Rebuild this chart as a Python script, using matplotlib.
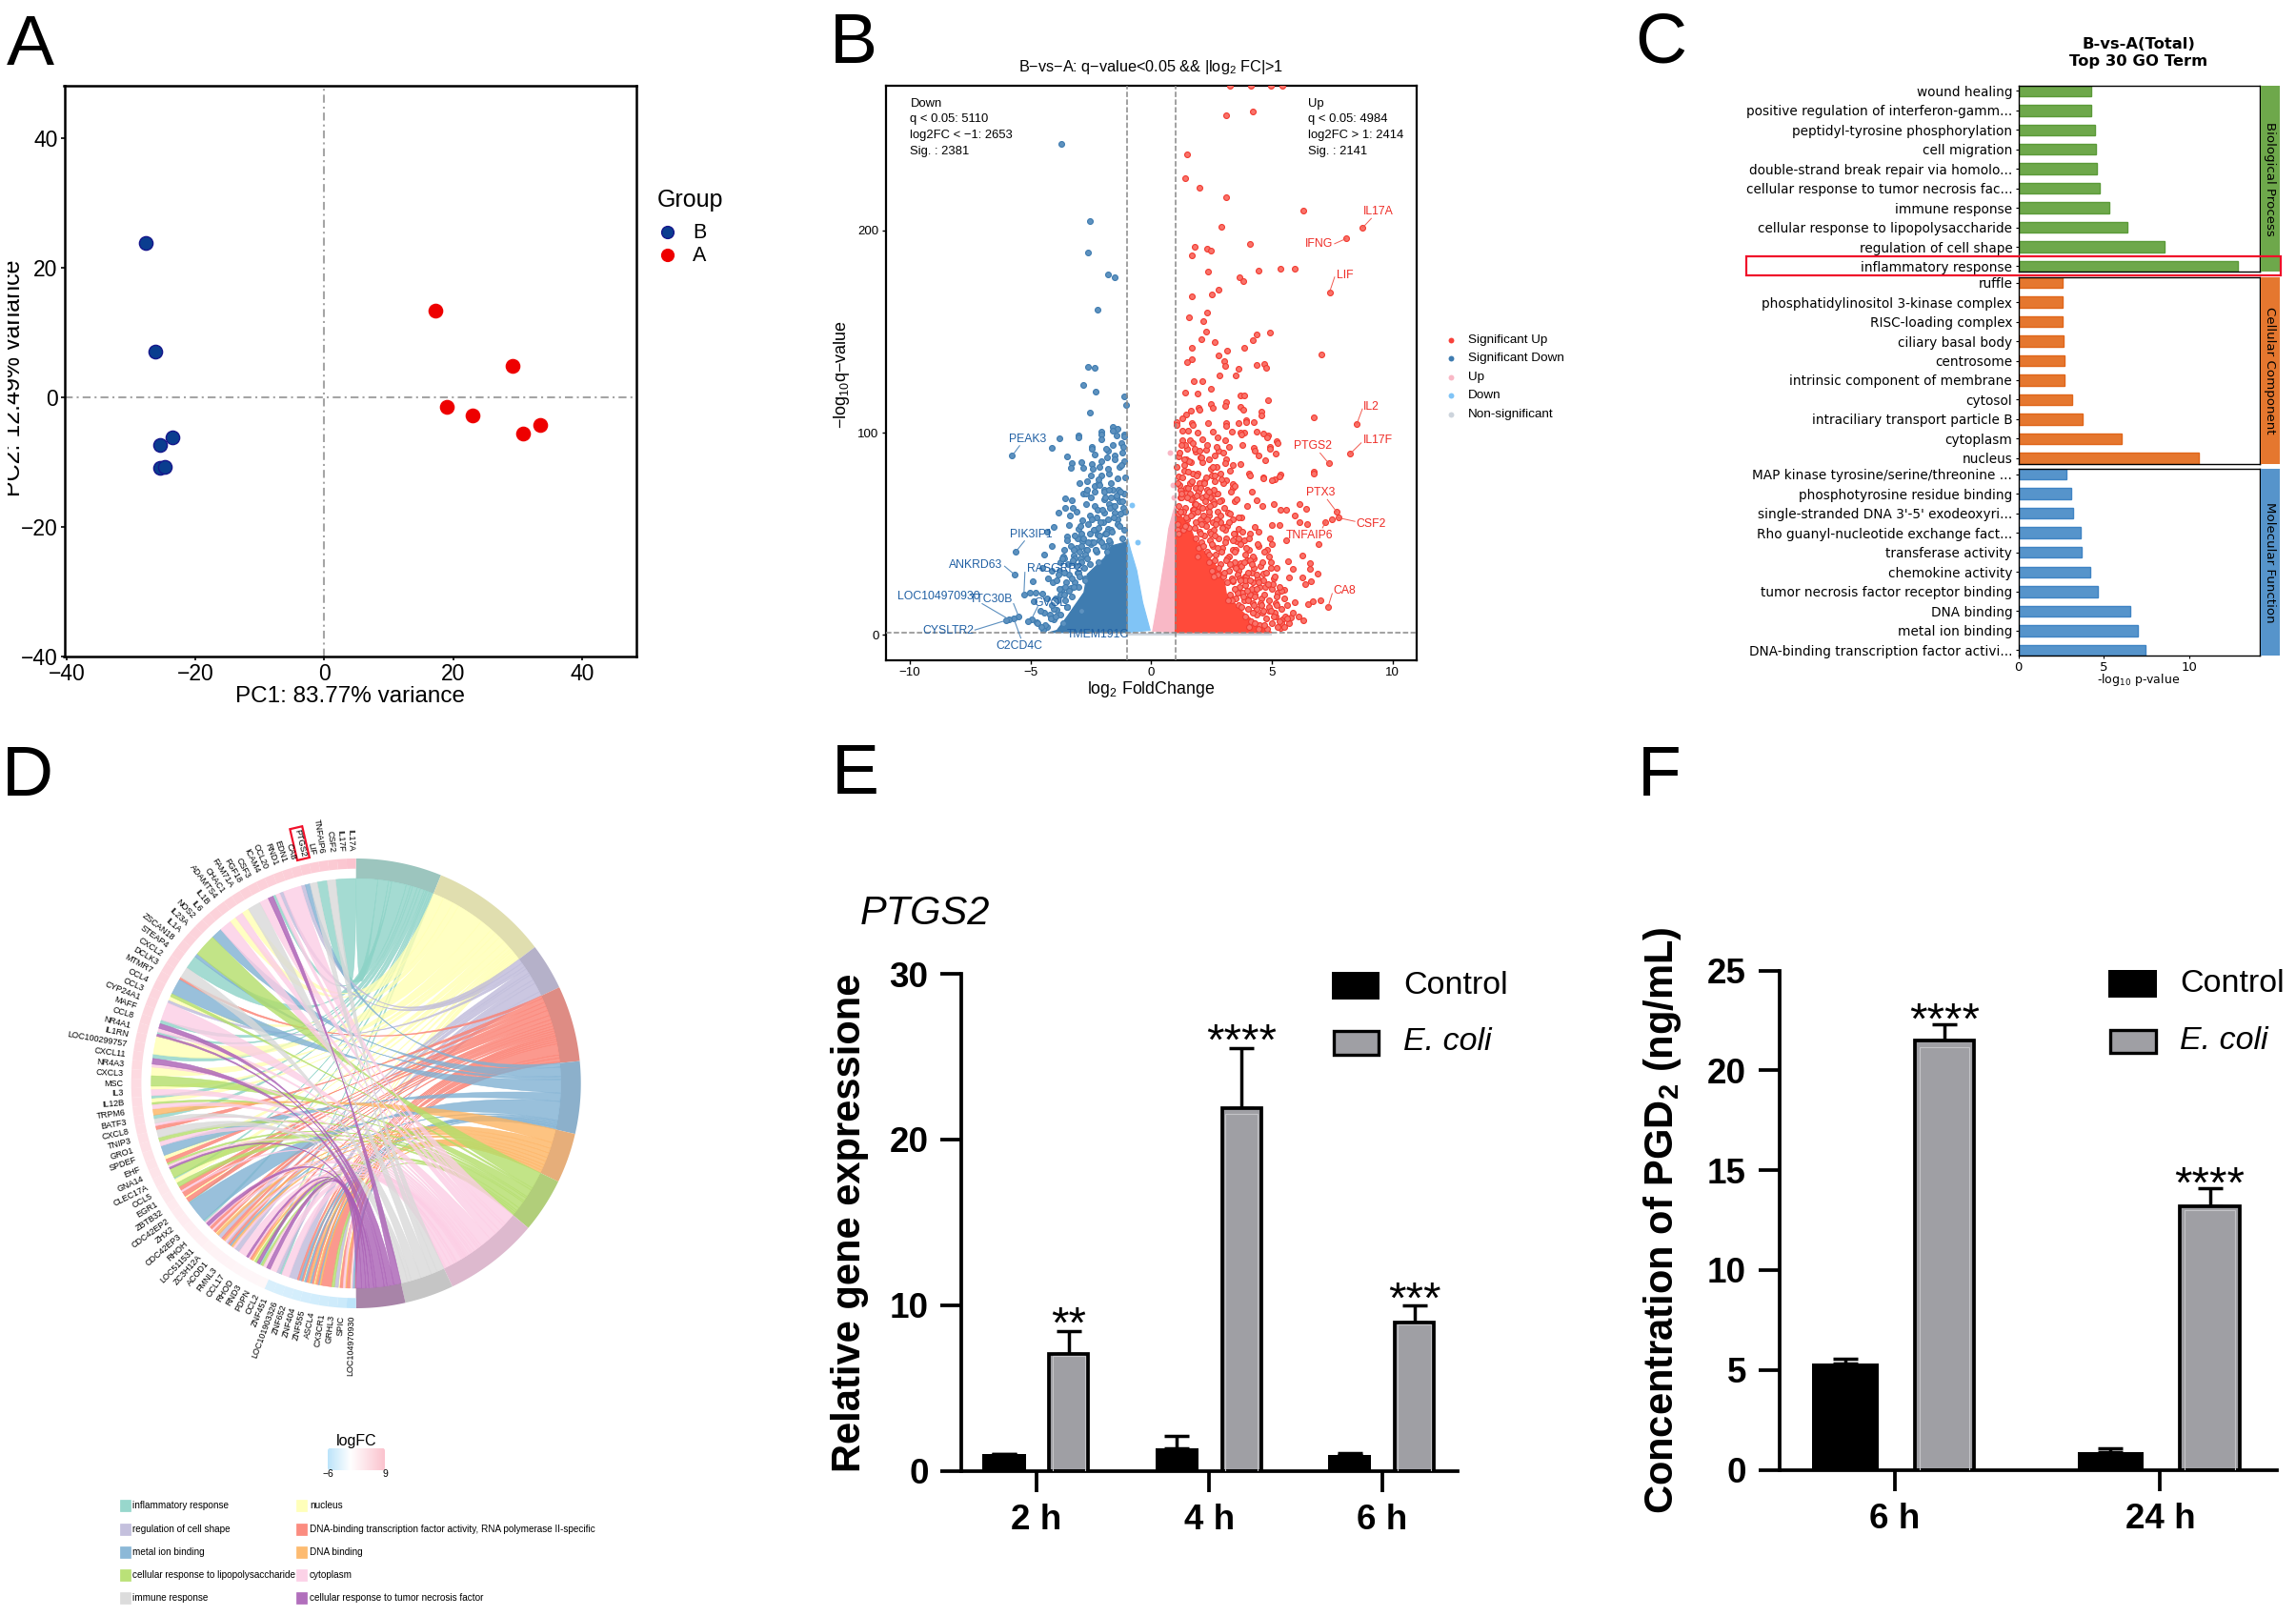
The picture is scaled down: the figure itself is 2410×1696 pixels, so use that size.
import numpy as np
import matplotlib
matplotlib.use("Agg")
import matplotlib.pyplot as plt
from matplotlib.colors import LinearSegmentedColormap, TwoSlopeNorm
from matplotlib.patches import Rectangle, Polygon, PathPatch, FancyBboxPatch
from matplotlib.path import Path

plt.rcParams['font.family'] = ['Liberation Sans', 'DejaVu Sans']
plt.rcParams['mathtext.fontset'] = 'custom'
plt.rcParams['mathtext.rm'] = 'Liberation Sans'
plt.rcParams['mathtext.it'] = 'Liberation Sans:italic'
plt.rcParams['mathtext.bf'] = 'Liberation Sans:bold'

W, H = 2410, 1696

##############PANEL A#################
pca_b_x = [-27.8, -26.3, -23.6, -25.5, -25.5, -24.8]
pca_b_y = [23.8, 7.0, -6.2, -7.3, -10.9, -10.7]
pca_a_x = [17.3, 29.3, 19.0, 23.0, 30.9, 33.5]
pca_a_y = [13.4, 4.8, -1.4, -2.8, -5.6, -4.3]

##############PANEL B#################
up_x = [3.25, 4.15, 4.95, 5.45, 3.1, 4.2, 1.5, 1.4, 2.0, 3.1, 6.3, 2.9, 8.77, 8.07, 4.1, 1.8, 2.3, 2.47, 1.7,
        5.35, 5.93, 4.44, 2.37, 3.64, 3.8, 7.39, 2.78, 2.53, 1.7, 2.33, 1.56, 2.16, 2.26, 4.92, 4.36, 2.08,
        4.2, 2.63, 3.87, 1.67, 3.13, 2.78, 7.06, 1.7, 1.48, 3.02, 4.38, 4.69, 4.77, 3.6, 3.05, 2.84, 3.5,
        1.77, 2.1, 2.49, 1.4, 1.91, 3.7, 3.85, 4.84, 3.09, 2.49, 3.7, 1.98, 1.44, 4.55, 6.75, 3.95, 8.52,
        1.05, 3.09, 1.7, 4.84, 4.63, 3.87, 3.7, 5.18, 8.25, 7.35, 6.73, 5.16, 4.26, 4.94, 5.35, 5.1, 4.63,
        4.07, 3.4,
        5.08, 5.37, 5.58, 5.93, 6.14, 6.42, 6.14, 6.45, 7.68, 7.75, 7.5, 7.23, 6.94, 5.58, 4.99, 5.32, 4.31,
        3.6, 3.4, 3.96, 4.59, 3.47, 4.38, 4.17, 3.4, 4.94, 4.45, 4.1, 4.8, 5.01, 4.87, 6.28, 5.67, 6.56,
        5.86, 6.56, 6.88, 6.28, 6.6, 6.38, 5.72, 5.08, 4.66, 4.52, 3.96, 4.17, 3.89, 4.66, 5.01, 5.22, 5.53,
        5.65, 5.93, 6.49, 6.7, 7.0, 7.33, 6.1, 6.32, 5.44, 5.79, 5.37, 4.94,
        1.29, 1.64, 1.99, 2.56, 3.06, 3.82, 1.04, 1.71, 2.35, 3.12, 3.61, 3.93, 4.27, 4.57, 1.29, 1.51, 1.92,
        2.56, 3.33, 3.75, 4.38, 4.8, 1.29, 1.62, 2.13, 2.77, 3.05, 3.79, 5.22, 4.94, 4.31, 4.45, 4.73, 1.5,
        1.85, 2.28, 2.63, 3.12, 3.68, 1.15, 1.43, 1.64, 2.13, 2.7, 3.26, 4.1, 4.66, 5.32, 5.01, 6.74, 1.36,
        1.71, 2.21, 2.63, 3.12, 1.15, 1.64, 3.47, 2.9, 2.56, 1.78, 1.43, 2.13, 1.22, 1.71, 2.35, 2.77, 3.19,
        2.06, 2.56, 2.98, 2.42, 3.12, 3.54, 3.4, 2.91, 3.68, 3.47, 3.4,
        1.2, 1.35, 1.6, 1.85, 2.05, 2.3, 2.5, 2.65, 1.15, 1.45, 1.8, 2.0, 2.45, 2.75, 3.0, 3.3, 3.55, 3.75,
        1.1, 1.25, 1.5, 1.75, 1.95, 2.2, 2.4, 2.6, 2.85, 3.15, 3.45, 3.85, 4.05, 4.25, 4.45, 4.7, 4.95, 5.2,
        3.6, 3.9, 4.2, 4.5, 4.3, 4.0, 3.7, 3.35, 3.6, 3.85, 4.1, 4.35, 4.6, 4.9, 5.15, 5.4]
up_y = [271.8, 271.8, 271.8, 271.8, 257, 259, 237.6, 226, 221, 216.6, 209.7, 202, 201.5, 196, 193.5, 192, 191, 190,
        187.7, 181, 181, 180, 179.5, 177, 175, 169.5, 170.8, 168.6, 167.4, 159.6, 157, 155, 150, 149.4, 148.8,
        146.4, 145.7, 145, 142, 142, 140.8, 138.4, 138.6, 136.4, 135, 135.4, 133.4, 133.8, 132, 131.7, 133, 128.6,
        128.4, 125.4, 125.4, 122, 120, 119.6, 118.7, 118.7, 116, 115, 114.4, 113, 112.4, 109, 110.3, 107.7, 106,
        104.4, 105.5, 105, 105, 98.8, 99.5, 100, 100, 96, 89.7, 85, 81, 89.7, 92.5, 93, 79.4, 76.8, 77.8, 80, 74.6,
        64.8, 62, 62, 59, 65, 62.5, 56, 55, 61, 58, 57, 56, 45, 47, 54.6, 54.6, 53.5, 52.7, 57, 63.6, 63.6, 66,
        66.7, 71, 73, 48, 51, 50, 42, 45, 38.8, 39.5, 36.4, 35.7, 32.9, 32.6, 30.5, 28.7, 26.7, 25.3, 28.7, 27.9,
        30.2, 34, 37, 31, 24.8, 27, 23, 21, 22.5, 14.7, 16.3, 15.5, 16.7, 17, 14, 9, 7.4, 7.8, 8.5, 3.4, 12.4,
        107, 111, 111.6, 112.4, 113.5, 111.6, 104, 104, 105, 103.6, 104.7, 105.4, 105.4, 108.8, 101, 101, 100,
        100.8, 100.5, 99, 100.5, 97.7, 96.4, 96.4, 97, 97.7, 96.4, 93.8, 94.9, 92, 91, 89, 86.5, 92, 90.7, 91.5,
        89, 87, 84.5, 88.4, 86.8, 85.3, 85.3, 83, 81.4, 79, 77.5, 78.3, 76.7, 80, 81.4, 79.8, 76, 76, 76.7, 78.3,
        75, 73.6, 66.7, 66.7, 68, 70.5, 68, 68, 62, 62.8, 61, 60.5, 57.4, 55.8, 53.5, 51, 48, 46.5, 42, 42, 35.7,
        34, 26.4,
        72, 84, 70, 73, 88, 72, 79, 70, 60, 73, 65, 75, 68, 70, 75, 71, 67, 58, 52, 68, 57, 62, 64, 55, 59, 65, 56,
        54, 50, 47, 42, 38, 44, 41, 36, 33, 32, 29, 26, 24, 20, 18, 21, 18, 15, 17, 20, 13, 11, 12, 9, 6]
up_more_x = [1.12, 1.27, 1.41, 1.53, 1.66, 1.83, 1.97, 2.12, 2.28, 2.44, 2.61, 2.83, 3.02, 1.19, 1.34, 1.48, 1.61, 1.76,
             1.9, 2.05, 2.22, 2.39,
             1.08, 1.21, 1.33, 1.46, 1.58, 1.72, 1.86, 1.99, 2.14, 2.27, 2.41, 2.58, 2.72, 2.88, 3.05, 3.22, 3.41, 3.63,
             1.15, 1.39, 1.64, 1.79, 1.93, 2.09, 2.33, 2.49, 2.66, 2.93, 3.28, 3.76,
             1.85, 1.97, 2.08, 2.2, 2.31, 2.43, 2.55, 2.68, 2.81, 2.95, 3.08, 3.23, 3.37, 3.52, 3.71, 3.88, 4.06, 1.92,
             2.03, 2.15, 2.38, 2.5, 2.62, 2.76, 2.9, 3.15, 3.45, 3.63, 3.95, 4.2, 4.42,
             2.4, 2.52, 2.63, 2.74, 2.86, 2.99, 3.1, 3.22, 3.33, 3.46, 3.59, 3.74, 3.92, 4.08, 4.27, 4.41, 4.6, 4.78,
             2.58, 2.8, 3.04, 3.27, 3.5, 3.66, 3.84, 4.0, 4.18, 4.36, 4.95, 5.12,
             3.15, 3.27, 3.39, 3.52, 3.64, 3.77, 3.9, 4.03, 4.16, 4.29, 4.43, 4.58, 4.74, 4.9, 5.05, 5.2, 5.38, 3.33,
             3.58, 3.83, 4.09, 4.35, 4.52, 4.68, 4.85, 5.15, 5.3, 5.5, 3.2, 3.46, 3.7, 3.96, 4.22,
             3.75, 3.88, 4.0, 4.13, 4.25, 4.38, 4.5, 4.63, 4.76, 4.88, 5.0, 5.12, 5.25, 5.4, 5.55, 5.7, 5.85, 4.06, 4.31,
             4.56, 4.82, 5.06, 5.32, 5.5, 4.2, 4.44, 4.7, 4.95, 5.18, 5.62,
             1.07, 1.17, 1.31, 1.42, 1.55, 1.68, 1.81, 1.94, 2.08, 2.18, 2.33, 2.47, 2.62, 2.78, 2.92, 3.07, 3.24, 1.11,
             1.24, 1.37, 1.52, 1.72, 1.88, 2.02, 2.26, 2.41, 2.56, 2.72, 2.86, 3.0, 3.38]
up_more_y = [64, 70, 63, 73, 67, 65, 71, 63, 69, 64, 72, 66, 63, 74, 61, 68, 75, 62, 69, 73, 66, 71,
             55, 61, 52, 58, 53, 60, 56, 51, 59, 54, 61, 52, 57, 59, 52, 56, 50, 58, 50, 54, 59, 53, 61, 55, 57, 50, 55,
             53, 60, 51,
             48, 43, 46, 49, 41, 47, 44, 40, 48, 43, 46, 39, 47, 42, 45, 40, 48, 39, 50, 44, 40, 45, 49, 43, 41, 38, 41,
             48, 43, 39, 45,
             36, 32, 37, 30, 35, 29, 37, 32, 28, 36, 30, 34, 29, 37, 33, 28, 36, 31, 29, 33, 31, 35, 33, 28, 36, 31, 35,
             30, 33, 29,
             26, 20, 27, 18, 24, 21, 27, 17, 23, 19, 26, 18, 24, 17, 25, 19, 22, 17, 21, 19, 27, 23, 16, 20, 25, 16, 24,
             18, 17, 23, 27, 22, 16,
             14, 9, 13, 7, 15, 10, 5, 12, 8, 14, 6, 11, 4, 13, 9, 6, 11, 4, 6, 15, 3, 9, 7, 4, 11, 3, 5, 12, 15, 8,
             83, 90, 78, 94, 86, 76, 92, 80, 88, 75, 94, 82, 79, 91, 77, 85, 93, 75, 94, 87, 81, 95, 79, 91, 78, 87, 83,
             93, 80, 90, 84]
down_x = [-3.74, -2.55, -2.63, -1.79, -1.52, -2.24, -2.63, -2.35, -2.82, -2.3, -1.11, -1.05, -2.53, -1.58, -2.06,
          -3.02, -3.8, -5.76, -4.12, -1.11, -1.4, -1.25, -2.45, -1.2, -1.8,
          -3.02, -2.08, -2.05, -1.59, -1.45, -1.1, -2.46, -2.36, -3.48, -3.27, -2.89, -2.81, -3.31, -2.46,
          -2.15, -1.82, -1.52, -1.1, -1.31, -1.73, -2.05, -2.36, -2.64, -1.38, -1.1, -1.66, -2.5, -2.8, -3.55,
          -3.27, -3.55, -3.24, -3.83, -3.37, -2.85, -2.36, -1.94, -1.52, -4.04, -3.41, -4.33, -3, -3.48, -3.06,
          -2.85, -4.11, -5.62, -4.44, -3.65, -3.2, -2.5, -2.22, -1.8, -1.38, -5.65, -4.92, -4.09, -5.27, -5.03,
          -4.79, -4.52, -5.48, -5.7, -5.9, -6, -4.96, -4.75, -5.1, -4.85, -3.76, -3.34, -4.33, -4.47, -3.9, -4.04,
          -3.55, -3.06,
          -1.95, -2.2, -2.7, -1.6, -1.3, -1.15, -2.9, -2.6, -2.25, -1.75, -1.45, -2.0, -2.35, -3.1, -3.6, -3.8,
          -2.15, -1.9, -1.65, -1.4, -1.2, -2.7, -2.45, -3.25, -2.95, -3.4, -2.3, -1.7, -3.7, -3.95, -4.2, -3.15,
          -2.55, -3.0, -2.75, -3.5, -2.9, -2.2, -1.85, -1.55]
down_y = [243, 204.8, 189, 178.4, 176.9, 161, 132.5, 132.3, 123.7, 120.4, 118, 114, 109.8, 103, 100.5, 98.8, 97.5,
          88.6, 92.8, 99, 102, 95, 93, 90, 91,
          97.7, 99, 97, 101, 98.5, 98, 92, 89.4, 88.4, 85, 85.6, 82.5, 82.5, 84.5, 83, 88, 89, 86, 83, 80, 78.8,
          73.6, 76, 77.5, 69.8, 68, 68, 69.8, 67.4, 66.7, 62.8, 62.8, 60.5, 59, 56.6, 63.6, 60.5, 60.5, 53.5, 54.3,
          51, 52.7, 48.8, 48, 46.5, 44, 41, 40, 38.8, 39.5, 45, 49.6, 52.7, 57.4, 29.8, 26.7, 26, 20.2, 21, 21,
          20.6, 9, 8.4, 7.8, 7.3, 7.8, 6.2, 7, 16.7, 20, 23.3, 3.9, 2.8, 12.4, 7.8, 17, 31,
          72, 75, 70, 72, 66, 63, 50, 55, 58, 65, 68, 56, 52, 43, 38, 32, 47, 50, 52, 55, 48, 42, 46, 36, 38, 30, 42,
          46, 23, 18, 10, 26, 35, 24, 28, 14, 12, 36, 44, 64]
down_more_x = [-1.07, -1.19, -1.31, -1.44, -1.57, -1.69, -1.83, -1.96, -2.1, -2.24, -2.38, -2.54, -2.71, -2.92, -1.13,
               -1.26, -1.5, -1.62, -1.77, -1.89, -2.03, -2.18, -2.47, -3.1,
               -1.75, -1.88, -2.0, -2.13, -2.26, -2.39, -2.52, -2.67, -2.82, -2.98, -3.15, -3.32, -3.5, -1.82, -2.06,
               -2.32, -2.6, -2.75, -2.9, -3.22, -3.62,
               -2.66, -2.78, -2.9, -3.03, -3.17, -3.3, -3.44, -3.6, -3.76, -3.92, -4.1, -2.72, -2.96, -3.1, -3.24, -3.52,
               -3.68, -3.85, -4.28, -4.5,
               -3.5, -3.62, -3.75, -3.88, -4.02, -4.15, -4.3, -4.45, -3.58, -3.8, -3.95, -4.1, -4.38, -4.6, -4.72, -4.55,
               -3.66, -3.2, -3.3, -3.42,
               -1.08, -1.22, -1.37, -1.52, -1.66, -1.8, -1.93, -2.07, -2.2, -2.34, -2.5, -1.14, -1.29, -1.6, -1.74, -1.87,
               -2.13, -2.42, -2.66, -2.98]
down_more_y = [61, 66, 54, 69, 58, 63, 51, 67, 56, 62, 52, 59, 65, 54, 52, 60, 64, 51, 57, 68, 62, 53, 57, 61,
               47, 50, 44, 49, 41, 46, 50, 42, 48, 41, 49, 44, 47, 41, 46, 42, 46, 40, 44, 42, 42,
               38, 33, 36, 31, 38, 28, 35, 31, 36, 27, 32, 27, 29, 34, 37, 26, 38, 30, 28, 33,
               14, 20, 10, 17, 13, 8, 18, 11, 24, 23, 9, 15, 5, 12, 6, 4, 6, 24, 19, 22,
               78, 84, 72, 87, 75, 82, 71, 86, 77, 71, 79, 93, 71, 94, 72, 92, 74, 82, 72, 75]
up_pt_x = [0.79, 0.91, 0.94]
up_pt_y = [90, 74, 68]
dn_pt_x = [-0.81, -0.58]
dn_pt_y = [64.3, 45.7]
red_cloud_x = [1.0, 1.02, 1.3, 1.57, 1.78, 2.28, 2.98, 3.12, 3.82, 4.66, 5.0, 1.0]
red_cloud_y = [1.3, 62, 58, 55, 48, 40, 30, 20, 11, 3, 1.3, 1.3]
blue_cloud_x = [-1.0, -1.02, -1.66, -1.94, -2.64, -2.78, -3.48, -3.9, -4.2, -1.0]
blue_cloud_y = [1.3, 46, 44, 38, 30, 21, 9, 2.3, 1.3, 1.3]
lblue_cloud_x = [-1.0, -0.98, -0.85, -0.6, -0.35, -0.04, -1.0]
lblue_cloud_y = [1.3, 48, 42, 32, 16, 2.3, 1.3]
pink_cloud_x = [0.06, 0.3, 0.59, 0.73, 0.94, 1.0, 1.0, 0.06]
pink_cloud_y = [1.9, 18, 40, 52.7, 62, 65, 1.3, 1.9]
ns_x = [-1.0, -1.0, 5.0, 5.0, -1.0]
ns_y = [1.3, -0.3, -0.3, 1.3, 1.3]

volcano_labels = ["IL17A", "IFNG", "LIF", "IL2", "IL17F", "PTGS2", "PTX3", "CSF2", "TNFAIP6", "CA8"]
label_x = [9.4, 6.95, 8.02, 9.13, 9.38, 6.69, 7.04, 9.11, 6.58, 8.0]
label_y = [209.5, 193.3, 178, 112.9, 96.2, 93.4, 70.3, 54.7, 49.3, 22]
leader_x0 = [8.77, 8.07, 7.39, 8.52, 8.25, 7.35, 7.68, 7.75, 7.23, 7.33]
leader_y0 = [201.5, 196, 169.5, 104.4, 89.7, 85, 61, 58, 56, 14]
leader_x1 = [9.12, 7.6, 7.6, 8.75, 8.7, 7.0, 7.3, 8.44, 7.1, 7.5]
leader_y1 = [206, 193.5, 177, 111.8, 95, 90, 67, 56.2, 53, 20.5]
volcano_labels_dn = ["PEAK3", "PIK3IP1", "ANKRD63", "RASGRP3", "LOC104970930", "TTC30B", "GVOL", "CYSLTR2",
                     "C2CD4C", "TMEM191C"]
label_dn_x = [-5.12, -4.98, -7.28, -4.0, -8.8, -6.64, -4.2, -8.4, -5.45, -2.2]
label_dn_y = [97, 49.7, 34.6, 32.9, 19, 17.7, 15.8, 2, -5.4, 0]
leader_dn_x0 = [-5.76, -5.62, -5.65, -5.27, -5.9, -5.48, -4.96, -6.0, -5.7]
leader_dn_y0 = [88.6, 41, 29.8, 20.2, 7.8, 9, 7.8, 7.3, 8.4]
leader_dn_x1 = [-5.45, -5.25, -6.07, -5.23, -7.0, -5.7, -4.7, -7.3, -5.4]
leader_dn_y1 = [93.6, 46.5, 34, 31, 15.5, 15.5, 14, 2.5, -1.5]

##############PANEL C#################
bp_terms = ["wound healing", "positive regulation of interferon-gamm...", "peptidyl-tyrosine phosphorylation",
            "cell migration", "double-strand break repair via homolo...", "cellular response to tumor necrosis fac...",
            "immune response", "cellular response to lipopolysaccharide", "regulation of cell shape",
            "inflammatory response"]
bp_vals = [4.24, 4.29, 4.47, 4.55, 4.62, 4.75, 5.33, 6.36, 8.56, 12.85]
cc_terms = ["ruffle", "phosphatidylinositol 3-kinase complex", "RISC-loading complex", "ciliary basal body",
            "centrosome", "intrinsic component of membrane", "cytosol", "intraciliary transport particle B",
            "cytoplasm", "nucleus"]
cc_vals = [2.58, 2.58, 2.6, 2.63, 2.68, 2.7, 3.13, 3.74, 6.06, 10.56]
mf_terms = ["MAP kinase tyrosine/serine/threonine ...", "phosphotyrosine residue binding",
            "single-stranded DNA 3'-5' exodeoxyri...", "Rho guanyl-nucleotide exchange fact...", "transferase activity",
            "chemokine activity", "tumor necrosis factor receptor binding", "DNA binding", "metal ion binding",
            "DNA-binding transcription factor activi..."]
mf_vals = [2.83, 3.08, 3.18, 3.66, 3.69, 4.22, 4.67, 6.57, 7.02, 7.47]

##############PANEL D#################
genes = ["IL17A", "IL17F", "CSF2", "TNFAIP6", "LIF", "PTGS2", "CA8", "EDN1", "RND1", "CCL20", "ICAM4", "CSF3", "FGF18",
         "FAM71A", "CHAC1", "ADAMTS4", "IL1B", "IL6", "NOS2", "IL23A", "IL1A", "ZSCAN18", "STEAP4", "CXCL2", "DCLK3",
         "MTMR7", "CCL4", "CCL3", "CYP24A1", "MAFF", "CCL8", "NR4A1", "IL1RN", "LOC100299757", "CXCL11", "NR4A3",
         "CXCL3", "MSC", "IL3", "IL12B", "TRPM6", "BATF3", "CXCL8", "TNIP3", "GRO1", "SPDEF", "EHF", "GNA14", "CLEC17A",
         "CCL5", "EGR1", "ZBTB32", "CDC42EP2", "ZHX2", "CDC42EP3", "RHOH", "LOC511531", "ZC3H12A", "ACOD1", "FMNL3",
         "CCL17", "RHOD", "RND3", "PDPN", "CCL2", "ZNF451", "LOC101903326", "ZNF652", "ZNF404", "ZNF555", "ASCL4",
         "CX3CR1", "GRHL3", "SPIC", "LOC104970930"]
gene_logfc = [8.8, 8.3, 8.0, 7.7, 7.5, 7.4, 7.3, 7.2, 7.1, 7.0, 7.0, 6.9, 6.9, 6.8, 6.8, 6.7, 6.7, 6.6, 6.6, 6.5,
              6.5, 6.4, 6.4, 6.3, 6.3, 6.2, 6.2, 6.1, 6.1, 6.0, 6.0, 5.9, 5.9, 5.8, 5.7, 5.6, 5.5, 5.4, 5.3, 5.2,
              5.1, 5.0, 4.9, 4.8, 4.6, 4.4, 4.2, 4.0, 3.8, 3.6, 3.4, 3.2, 3.0, 2.8, 2.6, 2.4, 2.2, 2.0, 1.8, 1.7,
              1.6, 1.5, 1.4, 1.3, 1.2, -3.5, -3.6, -3.7, -3.8, -3.9, -4.0, -4.2, -4.4, -4.6, -5.9]
term_names = ["inflammatory response", "nucleus", "regulation of cell shape",
              "DNA-binding transcription factor activity, RNA polymerase II-specific", "metal ion binding",
              "DNA binding", "cellular response to lipopolysaccharide", "cytoplasm", "immune response",
              "cellular response to tumor necrosis factor"]
term_span = [22.2, 30.5, 12.0, 19.6, 18.7, 12.9, 14.1, 24.6, 12.7, 12.7]
term_fill = ["#8DD3C7", "#FFFFB3", "#BEBADA", "#FB8072", "#80B1D3", "#FDB462", "#B3DE69", "#FCCDE5", "#D9D9D9", "#A95FB5"]
term_rim = ["#9CC5BE", "#E0DEAF", "#B5B1C9", "#DE8C84", "#8CB0CB", "#E6AE7A", "#B1CE7A", "#DDB9CE", "#C5C5C5", "#A884A8"]
link_term = [0, 8, 0, 8, 4, 2, 7, 2, 7, 0, 9, 7, 8, 1, 7, 1, 7, 4, 6, 4, 0, 8, 3, 4, 6, 1, 2, 7,
             0, 9, 7, 0, 9, 1, 0, 9, 7, 1, 6, 1, 7, 0, 1, 6, 7, 5, 0, 8, 7, 3, 8, 6,
             7, 4, 1, 3, 6, 7, 9, 6, 0, 1, 6, 3, 7, 3, 1, 3, 0, 4, 0, 7, 9, 7, 3, 7, 3, 1, 5, 2, 3, 5, 7,
             2, 3, 4, 5, 7, 2, 7,
             9, 7, 3, 5, 1, 6, 9, 0, 6, 7, 9, 7, 2, 0, 7, 2,
             3, 4, 3, 1, 4, 3, 5, 4, 3, 1, 5, 3, 4, 5, 3, 6, 2, 1, 3, 7, 5, 3, 1, 7, 4, 3]
link_width = [4.7, 2.0, 2.3, 1.7, 1.1, 1.0, 4.3, 0.9, 1.0, 0.7, 1.2, 2.2, 3.0, 1.7, 1.8, 1.6, 2.8, 2.6, 5.2, 0.8,
              3.2, 2.6, 0.6, 3.7, 0.7, 1.0, 0.6, 4.2,
              0.9, 1.1, 0.9, 0.5, 0.5, 4.2, 1.0, 1.3, 0.7, 2.0, 2.4, 0.8, 1.4, 0.7, 0.9, 0.5, 1.0, 1.4, 0.9, 1.0, 0.6,
              1.0, 1.8, 1.0,
              1.0, 2.3, 1.0, 0.9, 0.5, 0.6, 0.4, 2.2, 0.4, 1.0, 1.0, 1.0, 0.4, 1.2, 0.5, 1.0, 0.3, 5.2, 0.5, 0.4, 0.8,
              0.3, 0.8, 0.4, 0.7, 0.3, 0.6, 1.0, 0.6, 0.5, 0.4, 0.5, 0.5, 0.4, 0.5, 0.5, 1.2, 2.0,
              0.5, 0.4, 0.5, 0.4, 0.4, 0.6, 0.7, 0.4, 0.6, 0.8, 0.9, 1.6, 0.8, 0.5, 1.8, 2.0,
              0.5, 0.5, 0.4, 0.3, 0.4, 0.5, 0.4, 0.4, 0.5, 0.3, 0.3, 0.5, 0.3, 0.3, 2.5, 0.6, 0.9, 0.4, 0.7, 0.5, 0.3,
              0.8, 0.3, 0.3, 0.5, 0.3]

##############PANELS E F#################
ptgs_groups = ["2 h", "4 h", "6 h"]
ptgs_ctrl = [1.0, 1.35, 0.95]
ptgs_ctrl_top = [1.0, 2.1, 1.05]
ptgs_ecoli = [7.07, 21.9, 8.96]
ptgs_ecoli_top = [8.42, 25.5, 9.97]
ptgs_stars = ["**", "****", "***"]
pgd_groups = ["6 h", "24 h"]
pgd_ctrl = [5.31, 0.9]
pgd_ctrl_top = [5.58, 1.05]
pgd_ecoli = [21.5, 13.2]
pgd_ecoli_top = [22.3, 14.1]
pgd_stars = ["****", "****"]


def px_axes(l, t, r, b):
    return fig.add_axes([l / W, 1 - b / H, (r - l) / W, (b - t) / H])


fig = plt.figure(figsize=(W / 100, H / 100), dpi=100, facecolor="white")
ov = fig.add_axes([0, 0, 1, 1], zorder=10)
ov.set_xlim(0, W)
ov.set_ylim(H, 0)
ov.axis("off")

# panel letters
for letter, lx, ly in [("A", 7, 68), ("B", 871, 66), ("C", 1716, 66), ("D", 2, 835), ("E", 873, 833), ("F", 1719, 835)]:
    ov.text(lx, ly, letter, fontsize=54, va="baseline", ha="left", color="black")

##############A#################
ax = px_axes(67.5, 90, 667.5, 689)
ax.scatter(pca_b_x, pca_b_y, s=105, c="#0A3D8F", edgecolors="#16168C", linewidths=1.0, zorder=3)
ax.scatter(pca_a_x, pca_a_y, s=105, c="#EE0000", edgecolors="#EE0000", linewidths=1.0, zorder=3)
ax.axhline(0, color="#A5A5A5", ls=(0, (4, 2, 1, 2)), lw=1.5)
ax.axvline(0, color="#A5A5A5", ls=(0, (4, 2, 1, 2)), lw=1.5)
ax.set_xlim(-40.4, 48.4)
ax.set_ylim(-39.8, 48.1)
ax.set_xticks([-40, -20, 0, 20, 40])
ax.set_yticks([-40, -20, 0, 20, 40])
ax.tick_params(labelsize=16.5, length=3, width=1.2, pad=2)
for s in ax.spines.values():
    s.set_linewidth(1.8)
ov.text(367.5, 737, "PC1: 83.77% variance", fontsize=17.5, ha="center", va="baseline")
ov.text(21, 397, "PC2: 12.49% variance", fontsize=18, rotation=90, ha="center", va="baseline", rotation_mode="anchor")
ov.add_patch(Rectangle((0, 250), 8, 300, fc="white", ec="none", zorder=5))
ov.text(690, 210, "Group", fontsize=18, va="center")
ov.scatter([701, 701], [244, 268], s=85, c=["#0A3D8F", "#EE0000"], edgecolors=["#16168C", "#EE0000"])
ov.text(727, 244, "B", fontsize=15.5, va="center")
ov.text(727, 268, "A", fontsize=15.5, va="center")

##############B#################
ax = px_axes(929.6, 89.6, 1487, 693)
ax.fill(ns_x, ns_y, color="#CDD4DC", lw=0, zorder=1)
ax.fill(lblue_cloud_x, lblue_cloud_y, color="#80C4F6", lw=0.8, zorder=2)
ax.fill(pink_cloud_x, pink_cloud_y, color="#F9B8C6", lw=0.8, zorder=2)
ax.fill(blue_cloud_x, blue_cloud_y, color="#3F7CB0", lw=1, zorder=2)
ax.fill(red_cloud_x, red_cloud_y, color="#FF4A3A", lw=1, zorder=2)
ax.scatter(up_pt_x, up_pt_y, s=18, c="#F9B8C6", lw=0, zorder=2)
ax.scatter(dn_pt_x, dn_pt_y, s=18, c="#80C4F6", lw=0, zorder=2)
ax.scatter(up_x + up_more_x, up_y + up_more_y, s=18, facecolors="#F9736A", edgecolors="#F23A30", lw=0.8, zorder=3)
ax.scatter(down_x + down_more_x, down_y + down_more_y, s=18, facecolors="#5E92BF", edgecolors="#3F7CB0", lw=0.8, zorder=3)
ax.axhline(1.3, color="#888888", ls="--", lw=1.1, zorder=4)
ax.axvline(-1, color="#888888", ls="--", lw=1.1, zorder=4)
ax.axvline(1, color="#888888", ls="--", lw=1.1, zorder=4)
ax.set_xlim(-11, 11)
ax.set_ylim(-12.5, 271.8)
ax.set_xticks([-10, -5, 0, 5, 10])
ax.set_xticklabels(["−10", "−5", "0", "5", "10"])
ax.set_yticks([0, 100, 200])
ax.tick_params(labelsize=9.5, length=3, width=1.0, pad=2)
for s in ax.spines.values():
    s.set_linewidth(1.6)
for x0, y0, x1, y1 in zip(leader_x0, leader_y0, leader_x1, leader_y1):
    ax.plot([x0, x1], [y0, y1], color="#F25A50", lw=0.7, zorder=5)
for x0, y0, x1, y1 in zip(leader_dn_x0, leader_dn_y0, leader_dn_x1, leader_dn_y1):
    ax.plot([x0, x1], [y0, y1], color="#5C8FBF", lw=0.8, zorder=5)
for t, x, y in zip(volcano_labels, label_x, label_y):
    ax.text(x, y, t, color="#EE2A24", fontsize=8.8, ha="center", va="center", zorder=6)
for t, x, y in zip(volcano_labels_dn, label_dn_x, label_dn_y):
    ax.text(x, y, t, color="#1F5FA3", fontsize=8.8, ha="center", va="center", zorder=6)
for i, t in enumerate(["Down", "q < 0.05: 5110", "log2FC < −1: 2653", "Sig. : 2381"]):
    ax.text(-9.98, [262.7, 255, 247, 239][i], t, fontsize=9.4, va="center")
for i, t in enumerate(["Up", "q < 0.05: 4984", "log2FC > 1: 2414", "Sig. : 2141"]):
    ax.text(6.52, [262.7, 255, 247, 239][i], t, fontsize=9.4, va="center")
ov.text(1208, 70, r"B−vs−A: q−value<0.05 && |log$_2$ FC|>1", fontsize=11.7, ha="center", va="center")
ov.text(1208, 724, r"log$_2$ FoldChange", fontsize=12.8, ha="center", va="center")
ov.text(883.5, 392.6, r"−log$_{10}$q−value", fontsize=13, ha="center", va="center", rotation=90)
for i, (t, c) in enumerate(zip(["Significant Up", "Significant Down", "Up", "Down", "Non-significant"],
                               ["#F8413A", "#3F7CB0", "#F9B8C6", "#80C4F6", "#CDD4DC"])):
    ov.scatter([1522.7], [356.8 + i * 19.5], s=18, c=c, lw=0)
    ov.text(1541, 356.8 + i * 19.5, t, fontsize=9.7, va="center")

##############C#################
c_sets = [(bp_terms, bp_vals, "#6EA84B", "#5B9A38", 89.8, 285, "Biological Process"),
          (cc_terms, cc_vals, "#E5772F", "#E0661A", 291, 486.5, "Cellular Component"),
          (mf_terms, mf_vals, "#5694CB", "#3F84C4", 492, 688, "Molecular Function")]
for k, (names, vals, col, edge, top, bot, side) in enumerate(c_sets):
    ax = px_axes(2118.5, top, 2372, bot)
    ax.barh(range(10), vals, height=0.56, color=col, edgecolor=edge, lw=1)
    ax.set_ylim(9.27, -0.27)
    ax.set_xlim(0, 14.14)
    ax.set_yticks(range(10))
    ax.set_yticklabels(names, family="DejaVu Sans", fontsize=9.85)
    ax.tick_params(axis="y", length=2.5, width=0.8, pad=2)
    for s in ax.spines.values():
        s.set_linewidth(1.0)
    if k == 2:
        ax.set_xticks([0, 5, 10])
        ax.set_xticklabels(["0", "5", "10"], family="DejaVu Sans", fontsize=9.5)
        ax.tick_params(axis="x", length=2.5, width=0.8, pad=1.5)
    else:
        ax.set_xticks([])
    ov.add_patch(Rectangle((2373, top), 19.5, bot - top, fc=col, ec="none"))
    ov.text(2382.5, (top + bot) / 2, side, family="DejaVu Sans", fontsize=9.6, rotation=-90, ha="center", va="center")
ov.text(2245, 46.6, "B-vs-A(Total)", family="DejaVu Sans", weight="bold", fontsize=11.8, ha="center", va="center")
ov.text(2245, 64.5, "Top 30 GO Term", family="DejaVu Sans", weight="bold", fontsize=11.8, ha="center", va="center")
ov.text(2245, 714, r"-log$_{10}$ p-value", family="DejaVu Sans", fontsize=9, ha="center", va="center",
        math_fontfamily="dejavusans")
ov.add_patch(Rectangle((1832.7, 269.3), 561.3, 20.2, fc="none", ec="#F0102A", lw=1.6, zorder=6))

##############D#################
cx, cy = 373.7, 1137.0
r_out, r_ring, r_link = 236.0, 225.3, 215.0
fc_cmap = LinearSegmentedColormap.from_list("fc", ["#BCE4FA", "#FFFFFF", "#FBC3CE"])
fc_norm = TwoSlopeNorm(vmin=-6, vcenter=0, vmax=9)


def pol(phi, r):
    a = np.radians(phi)
    return cx + r * np.sin(a), cy - r * np.cos(a)


def arc(p0, p1, r):
    n = max(int(abs(p1 - p0) * 2) + 2, 3)
    return [pol(p, r) for p in np.linspace(p0, p1, n)]


def band(p0, p1, r0, r1, **kw):
    ov.add_patch(Polygon(arc(p0, p1, r1) + arc(p1, p0, r0), closed=True, **kw))


# right side sectors
term_start = np.concatenate([[0], np.cumsum(term_span)[:-1]])
for s, w, col in zip(term_start, term_span, term_rim):
    band(s, s + w, r_link, r_out, fc=col, ec="none", zorder=2)

# left side ring and labels
step = 180.0 / len(genes)
for i, (g, fc) in enumerate(zip(genes, gene_logfc)):
    p0 = 360 - i * step
    band(p0 - step - 0.02, p0, r_ring, r_out, fc=fc_cmap(fc_norm(fc)), ec="none", zorder=2)
    phi = p0 - step / 2
    x, y = pol(phi, r_out + 8)
    kw = {}
    if g == "PTGS2":
        kw["bbox"] = dict(fc="none", ec="#F0102A", lw=1.6, pad=1.5)
    ov.text(x, y, g, fontsize=6.5, rotation=270 - phi, rotation_mode="anchor", ha="right", va="center", **kw)

# ribbons
scale = 180.0 / sum(link_width)
link_term_arr = np.array(link_term)
link_width_arr = np.array(link_width) * scale
left_edges = 360 - np.concatenate([[0], np.cumsum(link_width_arr)])
for t in range(10):
    idx = np.where(link_term_arr == t)[0]
    k = term_span[t] / link_width_arr[idx].sum()
    pos = term_start[t]
    for j in idx:
        a0, a1 = left_edges[j], left_edges[j + 1]
        b0, b1 = pos, pos + link_width_arr[j] * k
        pos = b1
        pts = [pol(a1, r_link)] + [(cx, cy)] + [pol(b0, r_link)]
        codes = [Path.MOVETO, Path.CURVE3, Path.CURVE3]
        back = arc(b0, b1, r_link)[1:]
        pts += back
        codes += [Path.LINETO] * len(back)
        pts += [(cx, cy), pol(a0, r_link)]
        codes += [Path.CURVE3, Path.CURVE3]
        rim = arc(a0, a1, r_link)[1:]
        pts += rim
        codes += [Path.LINETO] * len(rim)
        ov.add_patch(PathPatch(Path(pts, codes), fc=term_fill[t], ec=term_fill[t], lw=0.4, alpha=0.8,
                               zorder=3 + t * 0.01))

# D legend
ov.text(374, 1513, "logFC", fontsize=11.5, ha="center", va="center")
cb_ax = px_axes(344, 1519.6, 404, 1543.4)
im = cb_ax.imshow(np.linspace(-6, 9, 120).reshape(1, -1), aspect="auto", cmap=fc_cmap, norm=fc_norm,
                  extent=[0, 60, 0, 24])
clip = FancyBboxPatch((1, 1), 58, 22, boxstyle="round,pad=1,rounding_size=3", transform=cb_ax.transData, fc="none", ec="none")
cb_ax.add_patch(clip)
im.set_clip_path(clip)
cb_ax.axis("off")
ov.text(344, 1547, "−6", fontsize=7.5, ha="center", va="center")
ov.text(404, 1547, "9", fontsize=7.5, ha="center", va="center")
row_y = [1580, 1604.8, 1628.8, 1653, 1677.4]
for i, (name, col) in enumerate(zip(term_names, term_fill)):
    sx = 125.7 if i % 2 == 0 else 311.4
    ry = row_y[i // 2]
    ov.add_patch(Rectangle((sx, ry - 6), 11, 12, fc=col, ec=col, lw=0.5, alpha=0.9))
    ov.text(sx + 13.5, ry, name, fontsize=7.2, va="center")


##############E F#################
def prism_bars(box, groups, ctrl, ctrl_top, ecoli, ecoli_top, stars, ymax, yticks, xlim, star_drop):
    ax = px_axes(*box)
    x = np.arange(len(groups))
    for i in x:
        ax.bar(i - 0.187, ctrl[i], width=0.25, color="black", zorder=2)
        ax.bar(i + 0.187, ecoli[i], width=0.225, color="#9F9FA4", edgecolor="black", lw=2.7, zorder=2)
        ax.bar(i + 0.187, ecoli[i] * 0.985, width=0.19, color="none", edgecolor="#C4C4C8", lw=0.8, zorder=3)
        ax.errorbar(i - 0.187, ctrl[i], yerr=[[0], [ctrl_top[i] - ctrl[i]]], color="black", capsize=9.5,
                    capthick=2.5, elinewidth=2.5, zorder=1)
        ax.errorbar(i + 0.187, ecoli[i], yerr=[[0], [ecoli_top[i] - ecoli[i]]], color="black", capsize=9.5,
                    capthick=2.5, elinewidth=2.5, zorder=1)
        ax.text(i + 0.187, ecoli_top[i] - star_drop, stars[i], fontsize=34, ha="center", va="baseline", clip_on=False)
    ax.set_xlim(*xlim)
    ax.set_ylim(0, ymax)
    ax.set_xticks(x)
    ax.set_xticklabels(groups, fontsize=26.5, weight="bold")
    ax.set_yticks(yticks)
    ax.set_yticklabels([str(v) for v in yticks], fontsize=26.5, weight="bold")
    ax.tick_params(length=16, width=2.7, pad=9)
    ax.spines["top"].set_visible(False)
    ax.spines["right"].set_visible(False)
    ax.spines["left"].set_linewidth(2.7)
    ax.spines["bottom"].set_linewidth(2.7)
    ax.patch.set_alpha(0)
    return ax


prism_bars((1009.3, 1022, 1530.4, 1543.6), ptgs_groups, ptgs_ctrl, ptgs_ctrl_top, ptgs_ecoli, ptgs_ecoli_top,
           ptgs_stars, 30, [0, 10, 20, 30], (-0.433, 2.44), 0.4)
prism_bars((1867.7, 1018.6, 2390, 1542.5), pgd_groups, pgd_ctrl, pgd_ctrl_top, pgd_ecoli, pgd_ecoli_top,
           pgd_stars, 25, [0, 5, 10, 15, 20, 25], (-0.435, 1.44), 0.45)

ov.text(902.7, 970, "PTGS2", fontsize=30, style="italic", va="baseline")
ov.text(892, 1283, "Relative gene expressione", fontsize=30, weight="bold", rotation=90, ha="center", va="center")
ov.text(1745, 1281, r"Concentration of PGD$_{\mathbf{2}}$ (ng/mL)", fontsize=30, weight="bold", rotation=90,
        ha="center", va="center")
for rx0, rx1, tx, r1, r2 in [(1398, 1448, 1473, (1019.7, 1048.8), (1080, 1108)),
                             (2213.4, 2264, 2288, (1017.5, 1047), (1079, 1106.4))]:
    ov.add_patch(Rectangle((rx0, r1[0]), rx1 - rx0, r1[1] - r1[0], fc="black", ec="none"))
    ov.add_patch(Rectangle((rx0 + 1.5, r2[0] + 1.5), rx1 - rx0 - 3, r2[1] - r2[0] - 3, fc="#9F9FA4", ec="black", lw=2.4))
    ov.text(tx, sum(r1) / 2, "Control", fontsize=24.5, va="center")
    ov.text(tx, sum(r2) / 2, "E. coli", fontsize=24.5, style="italic", va="center")

fig.savefig("out.png", dpi=100)
